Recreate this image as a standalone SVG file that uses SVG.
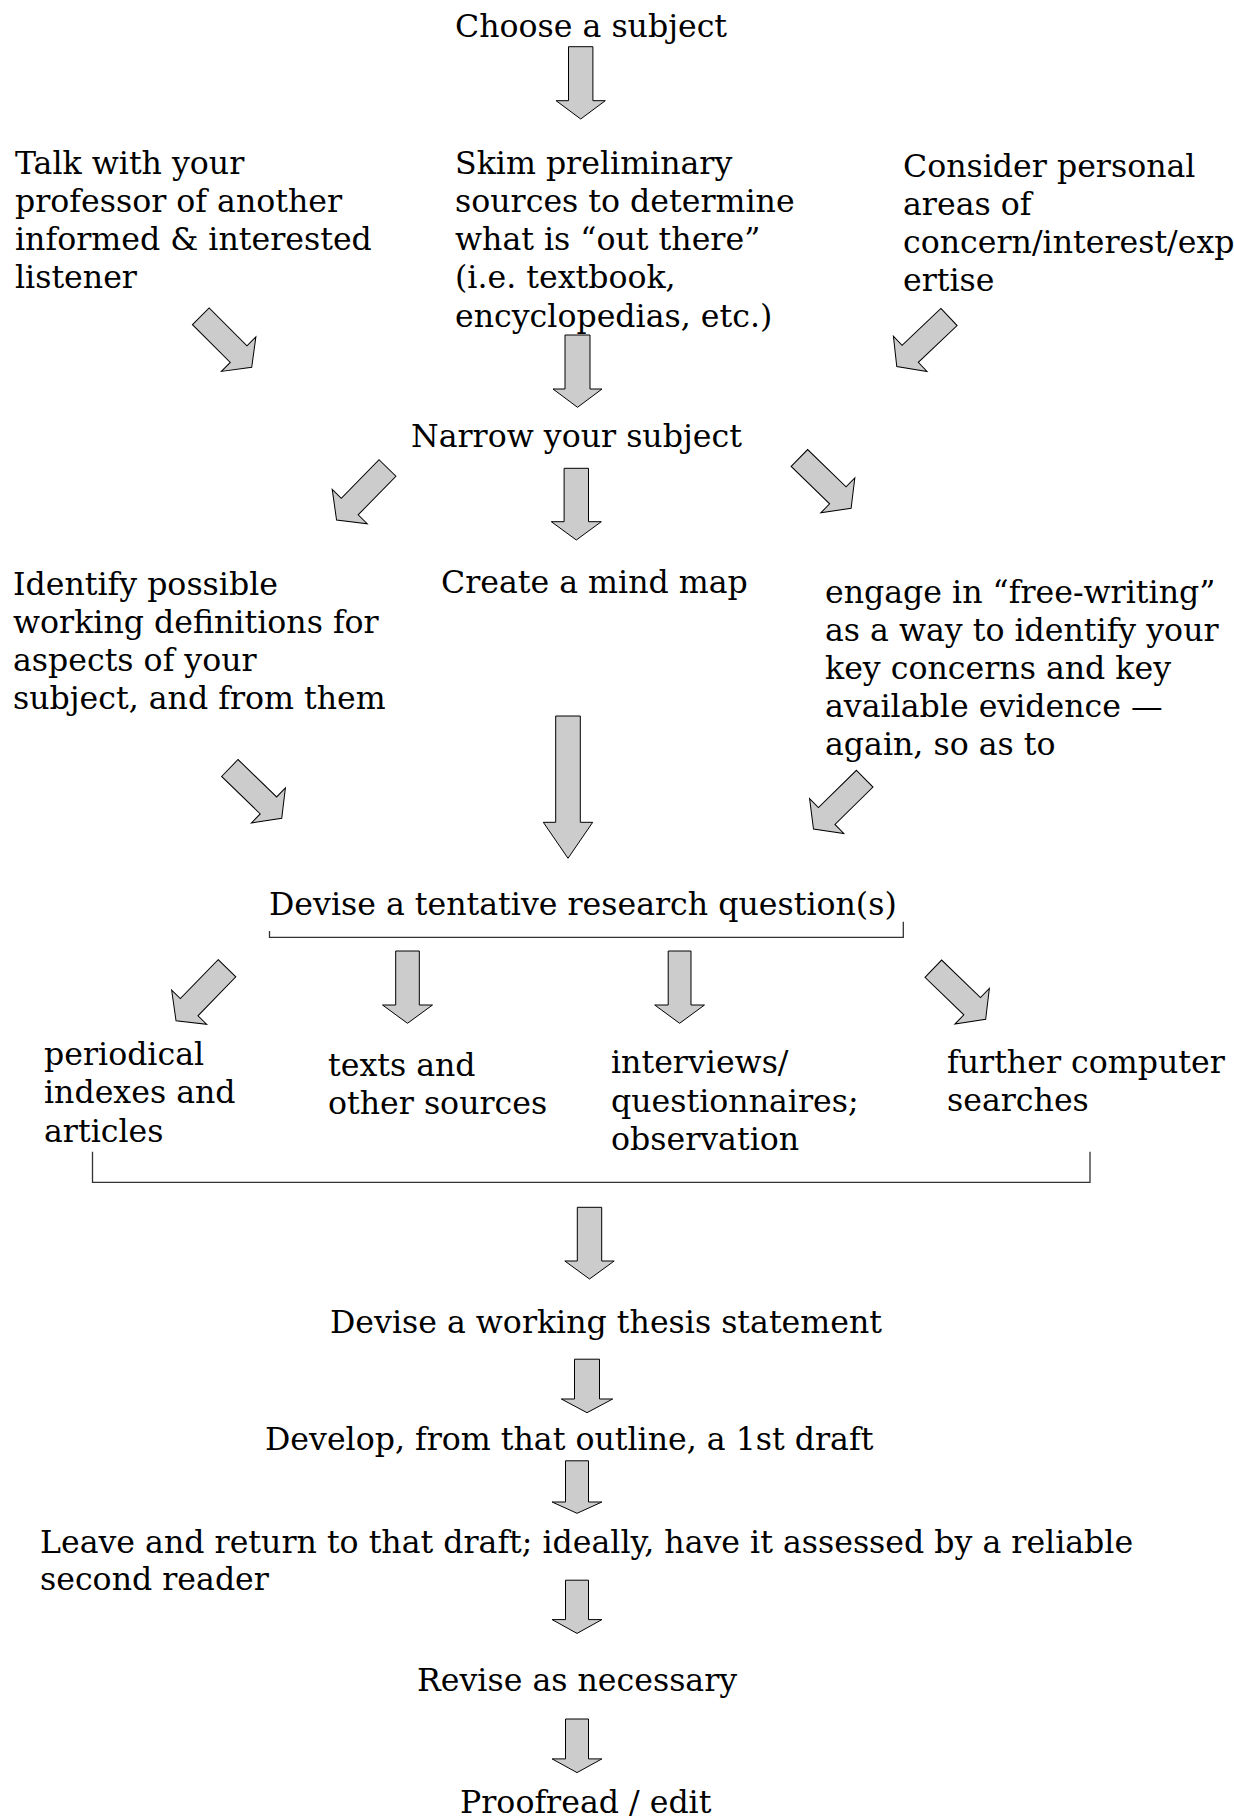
<svg xmlns="http://www.w3.org/2000/svg" width="1234" height="1817" viewBox="0 0 1234 1817">
<style>
text{font-family:"DejaVu Serif","Liberation Serif",serif;font-size:31.6px;fill:#000}
.ar{fill:#cccccc;stroke:#000;stroke-width:1}
.br{fill:none;stroke:#333;stroke-width:1.3}
</style>
<rect width="1234" height="1817" fill="#fff"/>
<g id="n-choose"><text x="455" y="36.7">Choose a subject</text></g>
<g id="n-talk"><text x="15" y="174">Talk with your</text><text x="15" y="212">professor of another</text><text x="15" y="250">informed &amp; interested</text><text x="15" y="288">listener</text></g>
<g id="n-skim"><text x="455" y="174">Skim preliminary</text><text x="455" y="212">sources to determine</text><text x="455" y="250">what is “out there”</text><text x="455" y="288">(i.e. textbook,</text><text x="455" y="326.5">encyclopedias, etc.)</text></g>
<g id="n-consider"><text x="903" y="177">Consider personal</text><text x="903" y="215">areas of</text><text x="903" y="253">concern/interest/exp</text><text x="903" y="291">ertise</text></g>
<g id="n-narrow"><text x="411" y="446.7">Narrow your subject</text></g>
<g id="n-identify"><text x="13" y="595">Identify possible</text><text x="13" y="633">working definitions for</text><text x="13" y="671">aspects of your</text><text x="13" y="708.5">subject, and from them</text></g>
<g id="n-mindmap"><text x="441" y="593.3">Create a mind map</text></g>
<g id="n-freewrite"><text x="825" y="603">engage in “free-writing”</text><text x="825" y="641">as a way to identify your</text><text x="825" y="678.5">key concerns and key</text><text x="825" y="716.5">available evidence —</text><text x="825" y="754.5">again, so as to</text></g>
<g id="n-question"><text x="269" y="915">Devise a tentative research question(s)</text></g>
<g id="n-periodical"><text x="44" y="1065">periodical</text><text x="44" y="1103">indexes and</text><text x="44" y="1141.5">articles</text></g>
<g id="n-texts"><text x="328" y="1076">texts and</text><text x="328" y="1114">other sources</text></g>
<g id="n-interviews"><text x="611" y="1073">interviews/</text><text x="611" y="1111.5">questionnaires;</text><text x="611" y="1149.5">observation</text></g>
<g id="n-computer"><text x="947" y="1073">further computer</text><text x="947" y="1111">searches</text></g>
<g id="n-thesis"><text x="330" y="1332.5">Devise a working thesis statement</text></g>
<g id="n-draft"><text x="265" y="1449.5">Develop, from that outline, a 1st draft</text></g>
<g id="n-leave"><text x="40" y="1553">Leave and return to that draft; ideally, have it assessed by a reliable</text><text x="40" y="1590">second reader</text></g>
<g id="n-revise"><text x="417" y="1691">Revise as necessary</text></g>
<g id="n-proof"><text x="460" y="1813">Proofread / edit</text></g>
<g id="connectors">
<path class="br" d="M269.5,931 V937.3 H903.3 V921.7"/>
<path class="br" d="M92.5,1151.7 V1182.3 H1090 V1151.7"/>
<polygon class="ar" transform="translate(580.7,46.7)" points="-12.2,0 12.2,0 12.2,54 24.6,54 0,72.3 -24.6,54 -12.2,54"/>
<polygon class="ar" transform="translate(200.8,316.3) rotate(-45)" points="-11.8,0 11.8,0 11.8,53.5 24.4,53.5 0,72 -24.4,53.5 -11.8,53.5"/>
<polygon class="ar" transform="translate(577.5,335)" points="-12.5,0 12.5,0 12.5,54 24.5,54 0,72.3 -24.5,54 -12.5,54"/>
<polygon class="ar" transform="translate(949,317) rotate(46.5)" points="-11.8,0 11.8,0 11.8,53.5 24.4,53.5 0,72 -24.4,53.5 -11.8,53.5"/>
<polygon class="ar" transform="translate(387.5,468) rotate(44.4)" points="-11.8,0 11.8,0 11.8,54 24.5,54 0,72.8 -24.5,54 -11.8,54"/>
<polygon class="ar" transform="translate(576.3,468.3)" points="-12.2,0 12.2,0 12.2,53.4 25,53.4 0,71.7 -25,53.4 -12.2,53.4"/>
<polygon class="ar" transform="translate(799.4,458) rotate(-45.8)" points="-11.8,0 11.8,0 11.8,53.6 24.4,53.6 0,72.1 -24.4,53.6 -11.8,53.6"/>
<polygon class="ar" transform="translate(229.8,768) rotate(-45.9)" points="-11.8,0 11.8,0 11.8,53.8 24.4,53.8 0,72.3 -24.4,53.8 -11.8,53.8"/>
<polygon class="ar" transform="translate(568,716)" points="-12.3,0 12.3,0 12.3,106.3 24.7,106.3 0,142.3 -24.7,106.3 -12.3,106.3"/>
<polygon class="ar" transform="translate(864.7,778.7) rotate(45.5)" points="-11.8,0 11.8,0 11.8,53.3 24.4,53.3 0,71.8 -24.4,53.3 -11.8,53.3"/>
<polygon class="ar" transform="translate(227,968.3) rotate(44.2)" points="-12.3,0 12.3,0 12.3,54.3 24.4,54.3 0,73.1 -24.4,54.3 -12.3,54.3"/>
<polygon class="ar" transform="translate(407.5,951)" points="-11.8,0 11.8,0 11.8,54 25,54 0,72.3 -25,54 -11.8,54"/>
<polygon class="ar" transform="translate(679.6,951)" points="-11.4,0 11.4,0 11.4,54 24.9,54 0,72.3 -24.9,54 -11.4,54"/>
<polygon class="ar" transform="translate(933.3,968.7) rotate(-46)" points="-12,0 12,0 12,54 24.8,54 0,72.8 -24.8,54 -12,54"/>
<polygon class="ar" transform="translate(589.5,1207.3)" points="-12.2,0 12.2,0 12.2,53.7 24.7,53.7 0,71.7 -24.7,53.7 -12.2,53.7"/>
<polygon class="ar" transform="translate(587,1359.2)" points="-12.5,0 12.5,0 12.5,39.8 25.7,39.8 0,53.5 -25.7,39.8 -12.5,39.8"/>
<polygon class="ar" transform="translate(577,1460.8)" points="-11.5,0 11.5,0 11.5,41.2 24.9,41.2 0,52.5 -24.9,41.2 -11.5,41.2"/>
<polygon class="ar" transform="translate(577,1580.2)" points="-11.5,0 11.5,0 11.5,39.4 24.9,39.4 0,53.2 -24.9,39.4 -11.5,39.4"/>
<polygon class="ar" transform="translate(577,1719)" points="-11.5,0 11.5,0 11.5,39.9 24.9,39.9 0,53.6 -24.9,39.9 -11.5,39.9"/>
</g>
</svg>
